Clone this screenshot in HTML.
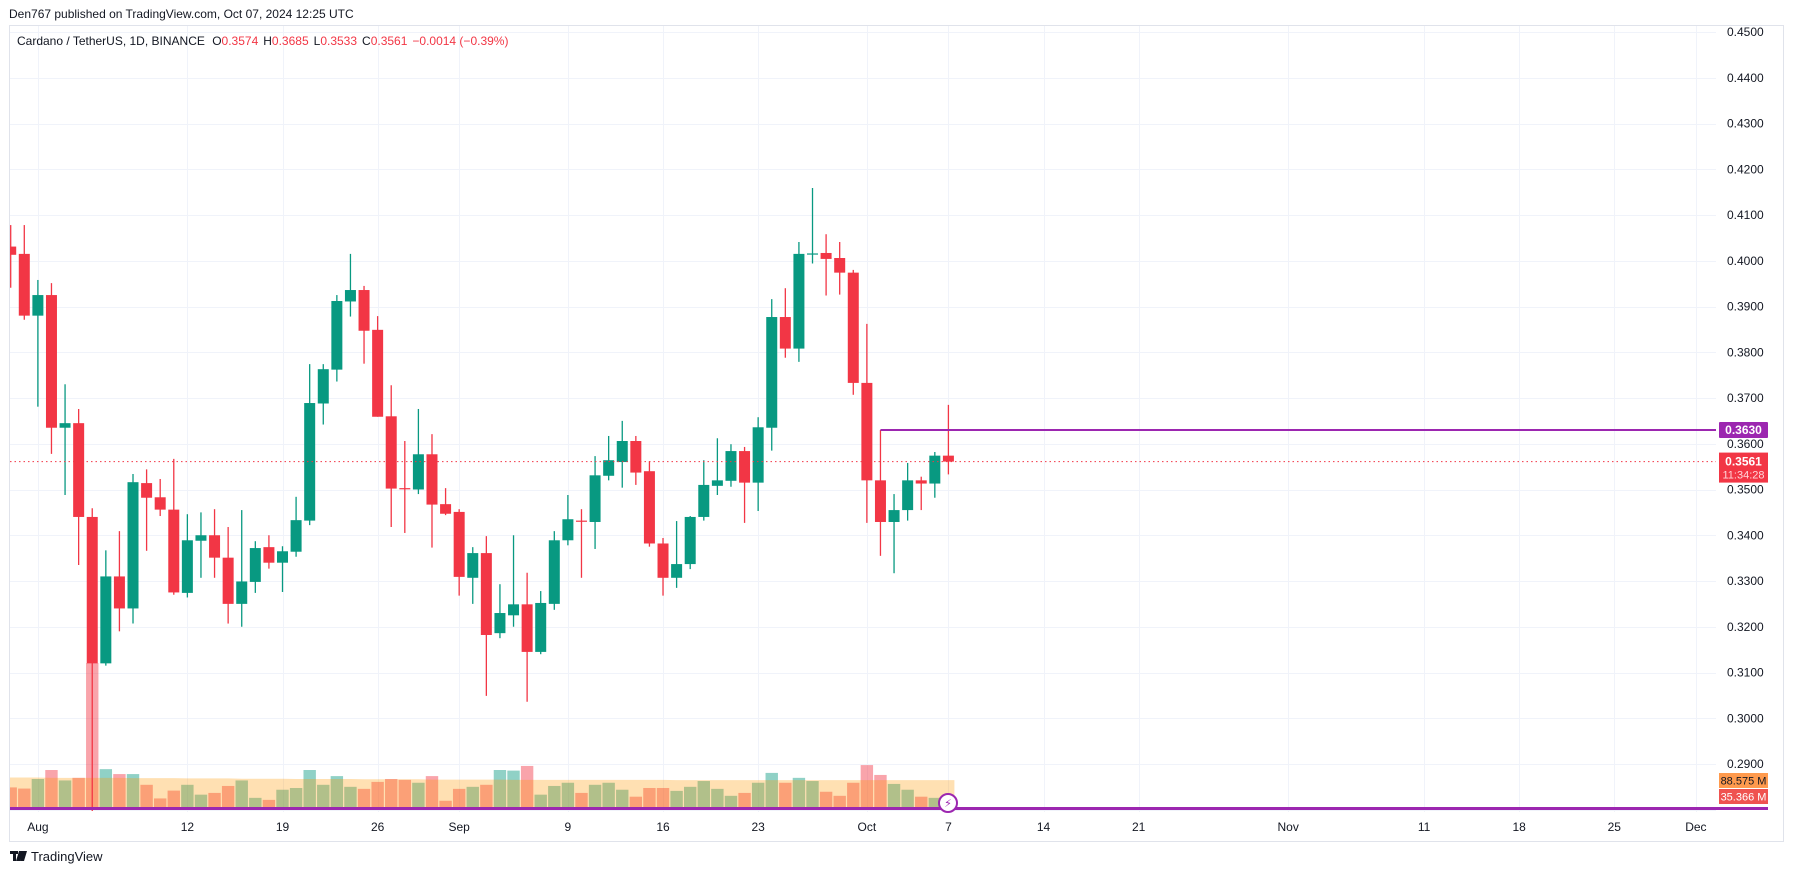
<!DOCTYPE html>
<html><head><meta charset="utf-8"><style>
html,body{margin:0;padding:0;background:#fff;}
svg{display:block;font-family:"Liberation Sans",sans-serif;}
</style></head><body>
<svg id="chart" width="1794" height="874" viewBox="0 0 1794 874" xmlns="http://www.w3.org/2000/svg">
<text x="9" y="18" font-size="12" fill="#131722">Den767 published on TradingView.com, Oct 07, 2024 12:25 UTC</text>
<rect x="9.5" y="25.5" width="1774" height="816" fill="none" stroke="#e0e3eb"/>
<g id="grid"></g>
<g id="dateAxis"></g>
<g id="priceAxis"></g>
<defs><clipPath id="plotClip"><rect x="10" y="26" width="1706" height="785"/></clipPath></defs>
<g id="volumes" clip-path="url(#plotClip)"></g>
<g id="candles" clip-path="url(#plotClip)"></g>
<g id="overlay"></g>
<text x="17" y="45" font-size="12"><tspan fill="#131722">Cardano / TetherUS, 1D, BINANCE  </tspan><tspan fill="#131722" dx="4">O</tspan><tspan fill="#f23645">0.3574</tspan><tspan fill="#131722" dx="5">H</tspan><tspan fill="#f23645">0.3685</tspan><tspan fill="#131722" dx="5">L</tspan><tspan fill="#f23645">0.3533</tspan><tspan fill="#131722" dx="5">C</tspan><tspan fill="#f23645">0.3561</tspan><tspan fill="#f23645" dx="5">−0.0014 (−0.39%)</tspan></text>
<g>
<rect x="10" y="851" width="8" height="3" fill="#131722"/><rect x="13" y="851" width="3" height="10" fill="#131722"/><polygon points="19,851 23,851 20,861 16,861" fill="#131722"/><polygon points="22,851 27,851 24,861 20,861" fill="#131722"/>
<text x="31" y="861" font-size="13" fill="#131722">TradingView</text>
</g>
</svg>
<script>
const dates = ["Jul30","Jul31","Aug1","Aug2","Aug3","Aug4","Aug5","Aug6","Aug7","Aug8","Aug9","Aug10","Aug11","Aug12","Aug13","Aug14","Aug15","Aug16","Aug17","Aug18","Aug19","Aug20","Aug21","Aug22","Aug23","Aug24","Aug25","Aug26","Aug27","Aug28","Aug29","Aug30","Aug31","Sep1","Sep2","Sep3","Sep4","Sep5","Sep6","Sep7","Sep8","Sep9","Sep10","Sep11","Sep12","Sep13","Sep14","Sep15","Sep16","Sep17","Sep18","Sep19","Sep20","Sep21","Sep22","Sep23","Sep24","Sep25","Sep26","Sep27","Sep28","Sep29","Sep30","Oct1","Oct2","Oct3","Oct4","Oct5","Oct6","Oct7"];
const opens = [0.4031,0.4015,0.3880,0.3925,0.3635,0.3645,0.3440,0.3120,0.3310,0.3240,0.3514,0.3483,0.3456,0.3274,0.3388,0.3400,0.3351,0.3250,0.3298,0.3374,0.3340,0.3364,0.3432,0.3688,0.3762,0.3911,0.3936,0.3849,0.3660,0.3503,0.3500,0.3577,0.3468,0.3451,0.3307,0.3361,0.3186,0.3225,0.3249,0.3145,0.3250,0.3389,0.3432,0.3429,0.3530,0.3560,0.3606,0.3540,0.3382,0.3307,0.3337,0.3440,0.3508,0.3519,0.3584,0.3515,0.3635,0.3877,0.3808,0.4014,0.4017,0.4006,0.3974,0.3733,0.3520,0.3429,0.3455,0.3520,0.3513,0.3574];
const highs = [0.4078,0.4078,0.3958,0.3951,0.3730,0.3676,0.3459,0.3367,0.3409,0.3534,0.3544,0.3523,0.3567,0.3446,0.3450,0.3457,0.3418,0.3455,0.3387,0.3400,0.3376,0.3484,0.3774,0.3774,0.3925,0.4015,0.3945,0.3879,0.3728,0.3606,0.3676,0.3621,0.3503,0.3457,0.3374,0.3398,0.3293,0.3400,0.3318,0.3278,0.3409,0.3488,0.3457,0.3573,0.3617,0.3650,0.3617,0.3562,0.3394,0.3431,0.3442,0.3564,0.3612,0.3599,0.3593,0.3658,0.3916,0.3940,0.4041,0.4159,0.4058,0.4041,0.3980,0.3862,0.3630,0.3490,0.3558,0.3528,0.3582,0.3685];
const lows = [0.3941,0.3871,0.3681,0.3578,0.3488,0.3335,0.2750,0.3115,0.3190,0.3207,0.3366,0.3442,0.3270,0.3264,0.3307,0.3307,0.3207,0.3200,0.3274,0.3327,0.3276,0.3353,0.3422,0.3642,0.3736,0.3878,0.3775,0.3659,0.3418,0.3405,0.3490,0.3373,0.3444,0.3268,0.3250,0.3049,0.3175,0.3200,0.3036,0.3140,0.3237,0.3378,0.3307,0.3370,0.3520,0.3504,0.3510,0.3375,0.3268,0.3285,0.3326,0.3432,0.3488,0.3506,0.3427,0.3453,0.3585,0.3788,0.3779,0.3994,0.3924,0.3926,0.3707,0.3427,0.3355,0.3317,0.3432,0.3455,0.3482,0.3533];
const closes = [0.4013,0.3880,0.3925,0.3635,0.3645,0.3440,0.3120,0.3310,0.3240,0.3516,0.3482,0.3456,0.3275,0.3389,0.3400,0.3351,0.3250,0.3299,0.3372,0.3340,0.3365,0.3433,0.3689,0.3763,0.3912,0.3936,0.3847,0.3659,0.3502,0.3502,0.3577,0.3467,0.3447,0.3309,0.3361,0.3182,0.3230,0.3249,0.3145,0.3252,0.3389,0.3435,0.3430,0.3531,0.3564,0.3606,0.3537,0.3382,0.3307,0.3337,0.3440,0.3510,0.3520,0.3584,0.3515,0.3636,0.3877,0.3808,0.4015,0.4016,0.4004,0.3974,0.3733,0.3520,0.3429,0.3455,0.3520,0.3513,0.3574,0.3561];
const volumes = [71,67,100,131,95,104,500,134,117,117,80,33,60,80,46,52,76,95,35,28,63,69,131,80,110,73,66,90,100,97,87,110,25,66,73,80,131,129,145,46,76,87,52,80,87,63,39,69,69,59,73,93,66,42,52,87,121,87,104,93,56,42,87,148,114,83,63,39,35,35];
const volumeMA = [105,105,105,104,104,104,104,104,104,103,103,103,103,102,102,102,102,101,101,101,101,100,100,100,100,100,99,99,99,99,99,98,98,98,98,98,98,97,97,97,97,97,97,97,97,97,97,97,97,96,96,96,96,96,96,96,96,96,96,96,96,96,96,96,96,96,96,96,96,96];
const priceTicks = ["0.4500","0.4400","0.4300","0.4200","0.4100","0.4000","0.3900","0.3800","0.3700","0.3600","0.3500","0.3400","0.3300","0.3200","0.3100","0.3000","0.2900"];
const dateTickLabels = ["Aug","12","19","26","Sep","9","16","23","Oct","7","14","21","Nov","11","18","25","Dec"];
const dateTickOffsets = [2,13,20,27,33,41,48,55,63,69,76,83,94,104,111,118,124];
const lastPrice = 0.3561, levelPrice = 0.3630, levelStartIndex = 64;

const NS="http://www.w3.org/2000/svg";
function mk(tag, attrs, parent){const e=document.createElementNS(NS,tag);for(const k in attrs)e.setAttribute(k,attrs[k]);parent.appendChild(e);return e;}
const yScale = p => 32 + (0.45 - p) * 4575;
const xScale = d => 10.7 + d * 13.59;
const VOL_BASE = 808, VOL_PX = 0.29;
const vScale = v => VOL_BASE - v * VOL_PX;
const GREEN="#089981", RED="#f23645";

const grid=document.getElementById('grid');
priceTicks.forEach(t=>{const y=Math.round(yScale(parseFloat(t)))+0.5;
  const l=mk('line',{x1:10,x2:1716,y1:y,y2:y,stroke:'#f0f3fa','stroke-width':1},grid);
  
  });
{const y=Math.round(yScale(0.28))+0.5;const l=mk('line',{x1:10,x2:1716,y1:y,y2:y,stroke:'#f0f3fa'},grid);
 
 }
dateTickOffsets.forEach(d=>{const x=Math.round(xScale(d))+0.5;
  const l=mk('line',{x1:x,x2:x,y1:26,y2:812,stroke:'#f0f3fa'},grid);
  
  });

const pa=document.getElementById('priceAxis');
priceTicks.forEach(t=>{const tx=mk('text',{x:1727,y:yScale(parseFloat(t))+4,'font-size':12,fill:'#131722'},pa);tx.textContent=t;
  
  });

const da=document.getElementById('dateAxis');
dateTickLabels.forEach((t,i)=>{const tx=mk('text',{x:xScale(dateTickOffsets[i]),y:831,'font-size':12,fill:'#131722','text-anchor':'middle'},da);tx.textContent=t;
  
  });

const vg=document.getElementById('volumes');
volumes.forEach((v,i)=>{const up=closes[i]>=opens[i];const x=xScale(i);
  const r=mk('rect',{x:x-6.2,y:vScale(v),width:12.4,height:v*VOL_PX,fill:up?'rgba(8,153,129,0.45)':'rgba(242,54,69,0.45)'},vg);
  
  });
{let pts=volumeMA.map((m,i)=>xScale(i)+','+vScale(m));
 const d='M'+(xScale(0)-6)+','+VOL_BASE+' L'+(xScale(0)-6)+','+vScale(volumeMA[0])+' L'+pts.join(' L')+' L'+(xScale(volumeMA.length-1)+6)+','+vScale(volumeMA[volumeMA.length-1])+' L'+(xScale(volumeMA.length-1)+6)+','+VOL_BASE+' Z';
 const a=mk('path',{d:d,fill:'rgba(255,152,0,0.3)'},vg);
 
 }

const cg=document.getElementById('candles');
opens.forEach((o,i)=>{const c=closes[i];const up=c>=o;const col=up?GREEN:RED;const x=xScale(i);
  const w=mk('line',{x1:x,x2:x,y1:yScale(highs[i]),y2:yScale(lows[i]),stroke:col,'stroke-width':1.3},cg);
  
  
  const top=yScale(Math.max(o,c)),bot=yScale(Math.min(o,c));
  const b=mk('rect',{x:x-5.5,y:top,width:11,height:Math.max(1.2,bot-top),fill:col},cg);
  
  });

const ov=document.getElementById('overlay');
{const y=yScale(lastPrice);
 const l=mk('line',{x1:10,x2:1716,y1:y,y2:y,stroke:RED,'stroke-width':1,'stroke-dasharray':'1.5 3'},ov);
 
 
 const y2=yScale(levelPrice);
 const h=mk('line',{x1:xScale(levelStartIndex),x2:1716,y1:y2,y2:y2,stroke:'#9c27b0','stroke-width':2},ov);
 
 
 const bl=mk('line',{x1:10,x2:1768,y1:808.5,y2:808.5,stroke:'#9c27b0','stroke-width':3},ov);
 
 
 const lb=mk('rect',{x:1719,y:y2-8,width:49,height:16,fill:'#9c27b0',rx:1},ov);
 
 
 const lt=mk('text',{x:1743.5,y:y2+4,'font-size':12,'font-weight':'bold',fill:'#fff','text-anchor':'middle'},ov);lt.textContent=levelPrice.toFixed(4);
 
 
 const pb=mk('rect',{x:1719,y:y-9,width:49,height:30,fill:RED},ov);
 
 
 const pt=mk('text',{x:1743.5,y:y+4,'font-size':12,'font-weight':'bold',fill:'#fff','text-anchor':'middle'},ov);pt.textContent=lastPrice.toFixed(4);
 
 
 const ct=mk('text',{x:1743.5,y:y+17,'font-size':11,fill:'#ffd6da','text-anchor':'middle'},ov);ct.textContent='11:34:28';
 
 
 const mb=mk('rect',{x:1719,y:773,width:49,height:15,fill:'#ff9a4d'},ov);
 
 
 const mt=mk('text',{x:1743.5,y:784.5,'font-size':11,fill:'#131722','text-anchor':'middle'},ov);mt.textContent='88.575 M';
 
 
 const vb=mk('rect',{x:1719,y:789,width:49,height:15,fill:'#ef5350'},ov);
 
 
 const vt=mk('text',{x:1743.5,y:800.5,'font-size':11,fill:'#fff','text-anchor':'middle'},ov);vt.textContent='35.366 M';
 
 
 const ic=mk('circle',{cx:948,cy:803,r:9,fill:'#fff',stroke:'#9c27b0','stroke-width':2},ov);
 
 
 const ig=mk('text',{x:948,y:807,'font-size':11,fill:'#9c27b0','text-anchor':'middle','font-family':'DejaVu Sans, sans-serif'},ov);ig.textContent='⚡';
 
 }
</script>
</body></html>
